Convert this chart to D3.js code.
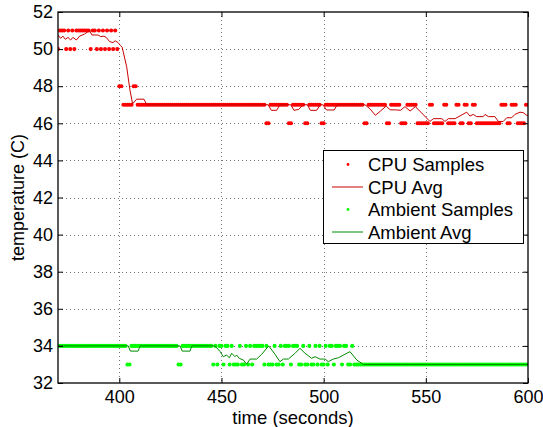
<!DOCTYPE html>
<html>
<head>
<meta charset="utf-8">
<script src="https://cdn.jsdelivr.net/npm/d3@7"></script>
<style>
  html, body { margin: 0; padding: 0; background: #fff; }
  svg { display: block; }
  text { font-family: "Liberation Sans", Arial, Helvetica, sans-serif; }
</style>
</head>
<body>
<div id="chart"></div>
<script>
// ---------------- data ----------------
const timeStart = 370;   // first sample time (s), one sample per second
const timeEnd = 600;

const xTicks = [400, 450, 500, 550, 600];
const yTicks = [32, 34, 36, 38, 40, 42, 44, 46, 48, 50, 52];

const legendLabels = ["CPU Samples", "CPU Avg", "Ambient Samples", "Ambient Avg"];

// CPU temperature samples, t = 370 ... 600
const cpuSamples = [
  50,51,51,51,50,51,50,51,50,51, 51,51,51,51,51,51,50,51,51,50,
  51,50,51,50,51,50,51,50,51,50,
  48,48,47,47,47,47,47,48,48,47,
  47,47,47,47,47,47,47,47,47,47, 47,47,47,47,47,47,47,47,47,47,
  47,47,47,47,47,47,47,47,47,47, 47,47,47,47,47,47,47,47,47,47,
  47,47,47,47,47,47,47,47,47,47, 47,47,47,47,47,47,47,47,47,47,
  47,47,
  46,46, 47,47,47,47,47,47,47,47,47, 46,46, 47,47,47,47,47,47,
  46,46, 47,47,47,47,47,47, 46,46,
  47,47,47,47,47,47,47,47,47,47, 47,47,47,47,47,47,47,47,47,
  46,46,47,47,47,47,47,47,47,47, 47,46,46,47,47,47,47,47,46,46,
  46,47,47,47,47,47,46,46,46,46, 46,46,47,47,46,46,46,46,46,47,
  47,46,46,46,46,47,47,46,46,47, 47,46,46,47,47,46,46,46,46,46,
  46,46,46,46,46,46,46,47,47,47, 46,46,47,47,47,46,46,46,46,47,
  47
];

// CPU moving average, [time, temperature] vertices
const cpuAvg = [
  [370,50.76],[371.3,50.58],[372.4,50.7],[373.6,50.53],[374.9,50.63],[376.2,50.49],
  [377.3,50.63],[379,50.49],[380.6,50.7],[383,50.81],[385.4,51.0],[386.6,50.76],
  [389.6,50.76],[390.9,50.67],[392.5,50.7],[393.6,50.63],[395.3,50.4],[396.9,50.35],
  [398,50.45],[399.4,50.35],[400.5,50.2],[401.4,50.1],[403.6,49.05],[405.2,47.8],
  [406.5,47.05],[408.5,47.3],[412.1,47.3],[413.4,47.0],[472.8,47.0],[474.4,46.7],
  [477,46.7],[478.6,47.0],[483.9,47.0],[485.5,46.7],[487.8,46.75],[490,47.0],
  [492,47.0],[493.5,46.7],[496.6,46.7],[498.3,47.0],[499.6,47.0],[501.4,46.72],
  [505.2,46.72],[506.6,47.0],[520.2,47.0],[522.7,46.78],[525.3,46.43],[527.8,46.66],
  [530.6,46.93],[532.5,46.73],[535.7,46.72],[537.6,46.7],[539.8,46.9],[542.3,46.66],
  [544.9,46.9],[552,46.1],[553.7,46.25],[557.8,46.25],[559.4,46.1],[561,46.25],
  [564.3,46.25],[570,46.6],[571.6,46.39],[573.2,46.48],[574.9,46.36],[578.1,46.36],
  [579,46.48],[580.6,46.36],[583.8,46.36],[585.5,46.1],[587.9,46.1],[589.6,46.3],
  [592,46.3],[593.6,46.48],[596.1,46.6],[597.7,46.57],[599.4,46.43],[600,46.43]
];

// Ambient temperature samples, t = 370 ... 600
const ambientSamples = [
  34,34,34,34,34,34,34,34,34,34, 34,34,34,34,34,34,34,34,34,34,
  34,34,34,34,34,34,34,34,34,34, 34,34,34,34,
  33,33,
  34,34,34,34,34,34,34,34,34,34, 34,34,34,34,34,34,34,34,34,34, 34,34,34,
  33,33,
  34,34,34,34,34,34,34,34,34,34, 34,34,34,34,34,
  33,34,33,34,34,33,34,34,33,34, 33,33,33,34,33,33,34,33,34,33,
  34,34,34,34,34,33,34,33,33,33, 34,33,33,34,33,34,34,34,33,34,
  34,34,33,33,34,33,33,34,33,33, 34,33,34,33,33,34,33,34,34,33,
  34,34,34,33,34,34,33,33,34,33, 33,33,33,33,
  33,33,33,33,33,33,33,33,33,33, 33,33,33,33,33,33,33,33,33,33,
  33,33,33,33,33,33,33,33,33,33, 33,33,33,33,33,33,33,33,33,33,
  33,33,33,33,33,33,33,33,33,33, 33,33,33,33,33,33,33,33,33,33,
  33,33,33,33,33,33,33,33,33,33, 33,33,33,33,33,33,33,33,33,33,
  33
];

// Ambient moving average, [time, temperature] vertices
const ambientAvg = [
  [370,34],[404.4,34],[405.4,33.72],[409.2,33.72],[410.2,34],[429.7,34],[430.8,33.72],
  [434.6,33.72],[435.5,34],[446.8,34],[449.3,33.7],[450.9,33.42],[452.5,33.51],
  [453.8,33.36],[455,33.6],[456.6,33.42],[457.4,33.51],[458.7,33.33],[460.7,33.24],
  [462.3,33.02],[464,33.29],[467.2,33.29],[469.7,33.55],[473.1,34.0],[476.2,33.55],
  [478.6,33.15],[480.3,33.29],[482.7,33.29],[486,33.6],[488.4,33.87],[490.9,33.6],
  [492.5,33.47],[494.1,33.33],[495.8,33.42],[498.2,33.29],[500.7,33.29],[502.3,33.15],
  [504.7,33.29],[507.2,33.36],[510.4,33.55],[512.9,33.69],[516.2,33.24],[519.4,33.0],
  [600,33.0]
];

// ---------------- drawing ----------------
const W = 543, H = 427;
const pLeft = 58, pRight = 528, pTop = 12, pBottom = 383;
const FONT = 18, LABEL_FONT = 18.5;

const svg = d3.select("#chart").append("svg")
  .attr("width", W).attr("height", H)
  .attr("viewBox", `0 0 ${W} ${H}`);

svg.append("rect").attr("width", W).attr("height", H).attr("fill", "#fff");

const x = d3.scaleLinear().domain([370, 600]).range([pLeft, pRight]);
const y = d3.scaleLinear().domain([32, 52]).range([pBottom, pTop]);

svg.append("defs").append("clipPath").attr("id", "plotclip")
  .append("rect").attr("x", pLeft).attr("y", pTop)
  .attr("width", pRight - pLeft).attr("height", pBottom - pTop);

// grid
const grid = svg.append("g").attr("stroke", "#777").attr("stroke-width", 1)
  .attr("stroke-dasharray", "1,3").attr("fill", "none");
grid.selectAll("line.v").data(xTicks.filter(d => d > 370 && d < 600)).join("line")
  .attr("class", "v")
  .attr("x1", d => Math.round(x(d)) + 0.5).attr("x2", d => Math.round(x(d)) + 0.5)
  .attr("y1", pTop).attr("y2", pBottom);
grid.selectAll("line.h").data(yTicks.filter(d => d > 32 && d < 52)).join("line")
  .attr("class", "h")
  .attr("y1", d => Math.round(y(d)) + 0.5).attr("y2", d => Math.round(y(d)) + 0.5)
  .attr("x1", pLeft).attr("x2", pRight);

const times = d3.range(timeStart, timeEnd + 1);
const plot = svg.append("g").attr("clip-path", "url(#plotclip)");
const line = d3.line().x(d => x(d[0])).y(d => y(d[1]));

const cpuRed = "#ff0000", cpuAvgCol = "#c80000";
const ambGreen = "#00ff00", ambAvgCol = "#008a00";
const R = 2.05;

// CPU samples
plot.append("g").attr("fill", cpuRed)
  .selectAll("circle").data(cpuSamples.map((v, i) => [times[i], v])).join("circle")
  .attr("cx", d => x(d[0])).attr("cy", d => y(d[1])).attr("r", R);
// CPU avg
plot.append("path").datum(cpuAvg).attr("d", line)
  .attr("fill", "none").attr("stroke", cpuAvgCol).attr("stroke-width", 1);
// Ambient samples
plot.append("g").attr("fill", ambGreen)
  .selectAll("circle").data(ambientSamples.map((v, i) => [times[i], v])).join("circle")
  .attr("cx", d => x(d[0])).attr("cy", d => y(d[1])).attr("r", R);
// Ambient avg
plot.append("path").datum(ambientAvg).attr("d", line)
  .attr("fill", "none").attr("stroke", ambAvgCol).attr("stroke-width", 1);

// axes
function styleAxis(g) {
  g.select(".domain").remove();
  g.selectAll(".tick line").attr("stroke", "#000").attr("stroke-width", 1);
  g.selectAll(".tick text").attr("fill", "#000")
    .style("font-family", '"Liberation Sans", Arial, Helvetica, sans-serif')
    .style("font-size", FONT + "px");
}
svg.append("g").attr("transform", `translate(0,${pBottom})`)
  .call(d3.axisBottom(x).tickValues(xTicks).tickFormat(d3.format("d"))
    .tickSizeInner(-5).tickSizeOuter(0).tickPadding(7.5))
  .call(styleAxis);
svg.append("g").attr("transform", `translate(0,${pTop})`)
  .call(d3.axisTop(x).tickValues(xTicks).tickFormat("")
    .tickSizeInner(-5).tickSizeOuter(0))
  .call(styleAxis);
svg.append("g").attr("transform", `translate(${pLeft},0)`)
  .call(d3.axisLeft(y).tickValues(yTicks).tickFormat(d3.format("d"))
    .tickSizeInner(-5).tickSizeOuter(0).tickPadding(5))
  .call(styleAxis);
svg.append("g").attr("transform", `translate(${pRight},0)`)
  .call(d3.axisRight(y).tickValues(yTicks).tickFormat("")
    .tickSizeInner(-5).tickSizeOuter(0))
  .call(styleAxis);

// frame
svg.append("rect").attr("x", pLeft).attr("y", pTop)
  .attr("width", pRight - pLeft).attr("height", pBottom - pTop)
  .attr("fill", "none").attr("stroke", "#000").attr("stroke-width", 1.3);

// axis labels
svg.append("text").attr("x", (pLeft + pRight) / 2).attr("y", 424)
  .attr("text-anchor", "middle").style("font-size", LABEL_FONT + "px")
  .text("time (seconds)");
svg.append("text")
  .attr("transform", `translate(24,${(pTop + pBottom) / 2}) rotate(-90)`)
  .attr("text-anchor", "middle").style("font-size", FONT + "px")
  .text("temperature (C)");

// legend
const lg = svg.append("g");
lg.append("rect").attr("x", 323.5).attr("y", 150.5).attr("width", 200).attr("height", 93)
  .attr("fill", "#fff").attr("stroke", "#000").attr("stroke-width", 1);
const legendRows = [
  { label: legendLabels[0], type: "dot", color: cpuRed },
  { label: legendLabels[1], type: "line", color: cpuAvgCol },
  { label: legendLabels[2], type: "dot", color: ambGreen },
  { label: legendLabels[3], type: "line", color: ambAvgCol }
];
legendRows.forEach((r, i) => {
  const base = 171 + i * 22.5;
  const cy = base - 6.5;
  if (r.type === "dot") {
    lg.append("circle").attr("cx", 348).attr("cy", cy).attr("r", 1.4).attr("fill", r.color);
  } else {
    lg.append("line").attr("x1", 332).attr("x2", 363).attr("y1", cy).attr("y2", cy)
      .attr("stroke", r.color).attr("stroke-width", 1);
  }
  lg.append("text").attr("x", 368).attr("y", base).style("font-size", LABEL_FONT + "px")
    .text(r.label);
});
</script>
</body>
</html>
